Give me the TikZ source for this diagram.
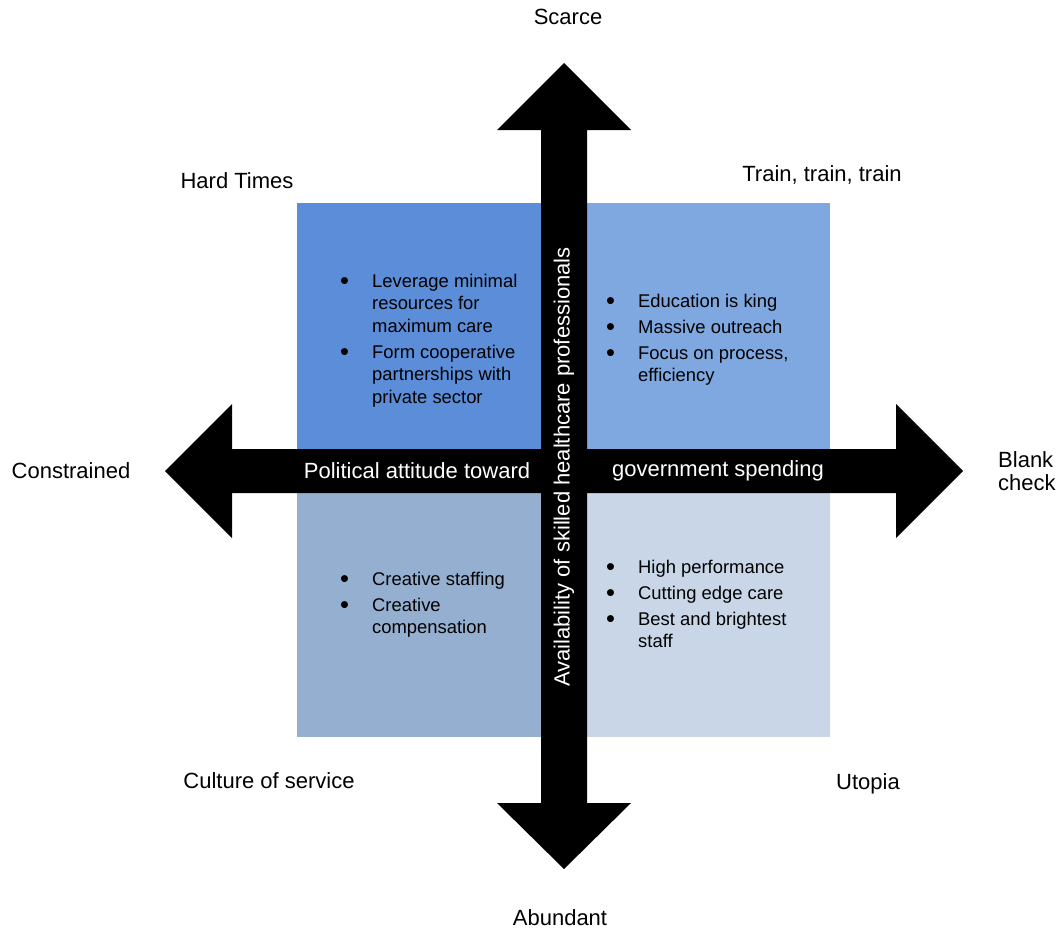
\documentclass[tikz,border=0pt]{standalone}
\usepackage{fontspec}
\setmainfont{Liberation Sans}
\usepackage{tikz}

\definecolor{hardblue}{RGB}{92,141,216}
\definecolor{trainblue}{RGB}{128,168,224}
\definecolor{cultureblue}{RGB}{149,175,208}
\definecolor{utopiablue}{RGB}{200,214,232}

\tikzset{
  axislabel/.style={font=\fontsize{22}{25}\selectfont, inner sep=0pt},
  bartext/.style={axislabel, text=white},
  listtext/.style={font=\fontsize{18.4}{22.5}\selectfont, anchor=base west, inner sep=0pt},
}
\newcommand{\bul}{\makebox[32pt][l]{\raisebox{-2.2pt}{\fontsize{25.5}{25.5}\selectfont•}}}

\begin{document}
\begin{tikzpicture}[x=1pt, y=-1pt]
    \useasboundingbox (0,0) rectangle (1060,932);

    % Quadrants
    \fill[hardblue]    (297,203) rectangle (564,471);
    \fill[trainblue]   (564,203) rectangle (830,471);
    \fill[cultureblue] (297,471) rectangle (564,737);
    \fill[utopiablue]  (564,471) rectangle (830,737);

    % Horizontal block arrow
    \fill[black] (232,449) -- (232,404) -- (165,471) -- (232,538) -- (232,493)
        -- (896,493) -- (896,538) -- (963,471) -- (896,404) -- (896,449) -- cycle;
    % Vertical block arrow
    \fill[black] (541,130) -- (497,130) -- (564,63) -- (631,130) -- (587,130)
        -- (587,803) -- (631,803) -- (564,869) -- (497,803) -- (541,803) -- cycle;

    % Axis texts
    \node[bartext] (polL) at (417,471) {Political attitude toward};
    \node[bartext] (polR) at (718,471) {government spending};
    \node[bartext, rotate=90] (avail) at (564,467) {Availability of skilled healthcare professionals};

    % Ends of the axes
    \node[axislabel] (scarce) at (568,17) {Scarce};
    \node[axislabel] (abundant) at (560,918) {Abundant};
    \node[axislabel] (constrained) at (71,471) {Constrained};
    \node[axislabel, align=left, anchor=west, font=\fontsize{22}{23}\selectfont] (blank) at (998,471) {Blank\\check};

    % Scenario names
    \node[axislabel] (hardtimes) at (237,181) {Hard Times};
    \node[axislabel] (train) at (822,175) {Train, train, train};
    \node[axislabel] (culture) at (269,781) {Culture of service};
    \node[axislabel] (utopia) at (868,784) {Utopia};

    % Bullet lists
    \node[listtext] (tl) at (340,287) {\begin{tabular}[t]{@{}l@{}l@{}}
        \bul & Leverage minimal\\ & resources for\\ & maximum care\\[3.5pt]
        \bul & Form cooperative\\ & partnerships with\\ & private sector
    \end{tabular}};
    \node[listtext] (tr) at (606,307) {\begin{tabular}[t]{@{}l@{}l@{}}
        \bul & Education is king\\[3.5pt]
        \bul & Massive outreach\\[3.5pt]
        \bul & Focus on process,\\ & efficiency
    \end{tabular}};
    \node[listtext] (bl) at (340,585) {\begin{tabular}[t]{@{}l@{}l@{}}
        \bul & Creative staffing\\[3.5pt]
        \bul & Creative\\ & compensation
    \end{tabular}};
    \node[listtext] (br) at (606,573) {\begin{tabular}[t]{@{}l@{}l@{}}
        \bul & High performance\\[3.5pt]
        \bul & Cutting edge care\\[3.5pt]
        \bul & Best and brightest\\ & staff
    \end{tabular}};
\end{tikzpicture}
\end{document}
